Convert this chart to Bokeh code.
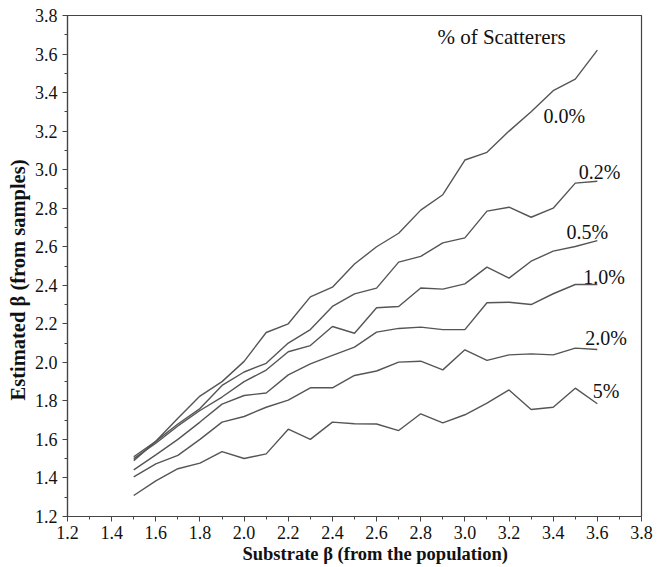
from bokeh.plotting import figure
from bokeh.models import FixedTicker, PrintfTickFormatter, Label, Range1d, Title
from bokeh.embed import file_html
from bokeh.resources import INLINE

# Substrate beta (x) values
substrate_beta = [1.5, 1.6, 1.7, 1.8, 1.9, 2.0, 2.1, 2.2, 2.3, 2.4, 2.5,
                  2.6, 2.7, 2.8, 2.9, 3.0, 3.1, 3.2, 3.3, 3.4, 3.5, 3.6]

# Estimated beta for each % of scatterers
est_0_0 = [1.51, 1.59, 1.71, 1.825, 1.90, 2.005, 2.155, 2.20, 2.34, 2.39, 2.51,
           2.60, 2.67, 2.79, 2.87, 3.05, 3.09, 3.20, 3.30, 3.41, 3.47, 3.62]
est_0_2 = [1.49, 1.59, 1.68, 1.76, 1.88, 1.95, 1.995, 2.10, 2.17, 2.29, 2.355,
           2.385, 2.52, 2.55, 2.62, 2.646, 2.785, 2.805, 2.753, 2.80, 2.93, 2.94]
est_0_5 = [1.50, 1.58, 1.67, 1.75, 1.82, 1.90, 1.96, 2.055, 2.087, 2.186, 2.151,
           2.283, 2.29, 2.386, 2.38, 2.407, 2.494, 2.437, 2.525, 2.577, 2.601, 2.632]
est_1_0 = [1.442, 1.52, 1.60, 1.69, 1.783, 1.828, 1.841, 1.935, 1.992, 2.036, 2.079,
           2.157, 2.176, 2.183, 2.170, 2.170, 2.309, 2.312, 2.300, 2.356, 2.404, 2.404]
est_2_0 = [1.406, 1.473, 1.517, 1.60, 1.69, 1.719, 1.767, 1.804, 1.868, 1.868, 1.932,
           1.955, 2.001, 2.006, 1.961, 2.065, 2.010, 2.039, 2.044, 2.039, 2.074, 2.067]
est_5 = [1.309, 1.385, 1.448, 1.477, 1.537, 1.501, 1.525, 1.653, 1.600, 1.690, 1.681,
         1.680, 1.646, 1.733, 1.686, 1.728, 1.788, 1.857, 1.755, 1.767, 1.866, 1.785]

series_names = ["0.0%", "0.2%", "0.5%", "1.0%", "2.0%", "5%"]
series_values = [est_0_0, est_0_2, est_0_5, est_1_0, est_2_0, est_5]

tick_values = [1.2, 1.4, 1.6, 1.8, 2.0, 2.2, 2.4, 2.6, 2.8, 3.0, 3.2, 3.4, 3.6, 3.8]
minor_values = [1.3, 1.5, 1.7, 1.9, 2.1, 2.3, 2.5, 2.7, 2.9, 3.1, 3.3, 3.5, 3.7]

legend_title = "% of Scatterers"
x_title = "Substrate \u03b2 (from the population)"
y_title = "Estimated \u03b2 (from samples)"

FONT = "Liberation Serif"
LINE = "#555555"
AXIS = "#444444"
TEXT = "#111111"

p = figure(width=671, height=567, output_backend="svg", toolbar_location=None,
           x_range=Range1d(1.2, 3.8), y_range=Range1d(1.2, 3.8),
           min_border_left=67, min_border_right=30, min_border_top=15,
           min_border_bottom=51)
p.background_fill_color = "white"
p.border_fill_color = "white"
p.outline_line_color = AXIS
p.outline_line_width = 1.2
p.xgrid.visible = False
p.ygrid.visible = False

for vals in series_values:
    p.line(substrate_beta, vals, line_color=LINE, line_width=1.4)

for ax in (p.xaxis[0], p.yaxis[0]):
    ax.ticker = FixedTicker(ticks=tick_values, minor_ticks=minor_values)
    ax.formatter = PrintfTickFormatter(format="%.1f")
    ax.axis_line_color = AXIS
    ax.axis_line_width = 1.2
    ax.major_tick_line_color = AXIS
    ax.minor_tick_line_color = AXIS
    ax.major_tick_out = 5
    ax.major_tick_in = 0
    ax.minor_tick_out = 3
    ax.minor_tick_in = 0
    ax.major_label_text_font = FONT
    ax.major_label_text_font_size = "18px"
    ax.major_label_text_color = TEXT

p.xaxis.major_label_standoff = 4
p.yaxis.major_label_standoff = 5

# axis titles as side titles, so they can sit slightly off-centre like the original
xt = Title(text=x_title, align="left", offset=175, standoff=0,
           text_font=FONT, text_font_size="18.5px", text_font_style="bold",
           text_color=TEXT)
p.add_layout(xt, "below")
yt = Title(text=y_title, align="left", offset=116, standoff=6,
           text_font=FONT, text_font_size="20.5px", text_font_style="bold",
           text_color=TEXT)
p.add_layout(yt, "left")

# series labels near line ends
label_pos = [(3.45, 3.28), (3.61, 2.99), (3.555, 2.675), (3.63, 2.445), (3.64, 2.125), (3.64, 1.85)]
for name, (lx, ly) in zip(series_names, label_pos):
    p.add_layout(Label(x=lx, y=ly, text=name, text_font=FONT, text_font_size="20px",
                       text_align="center", text_baseline="middle", text_color=TEXT))

p.add_layout(Label(x=3.166, y=3.69, text=legend_title, text_font=FONT, text_font_size="21px",
                   text_align="center", text_baseline="middle", text_color=TEXT))

open("out.html", "w").write(file_html(p, INLINE))
